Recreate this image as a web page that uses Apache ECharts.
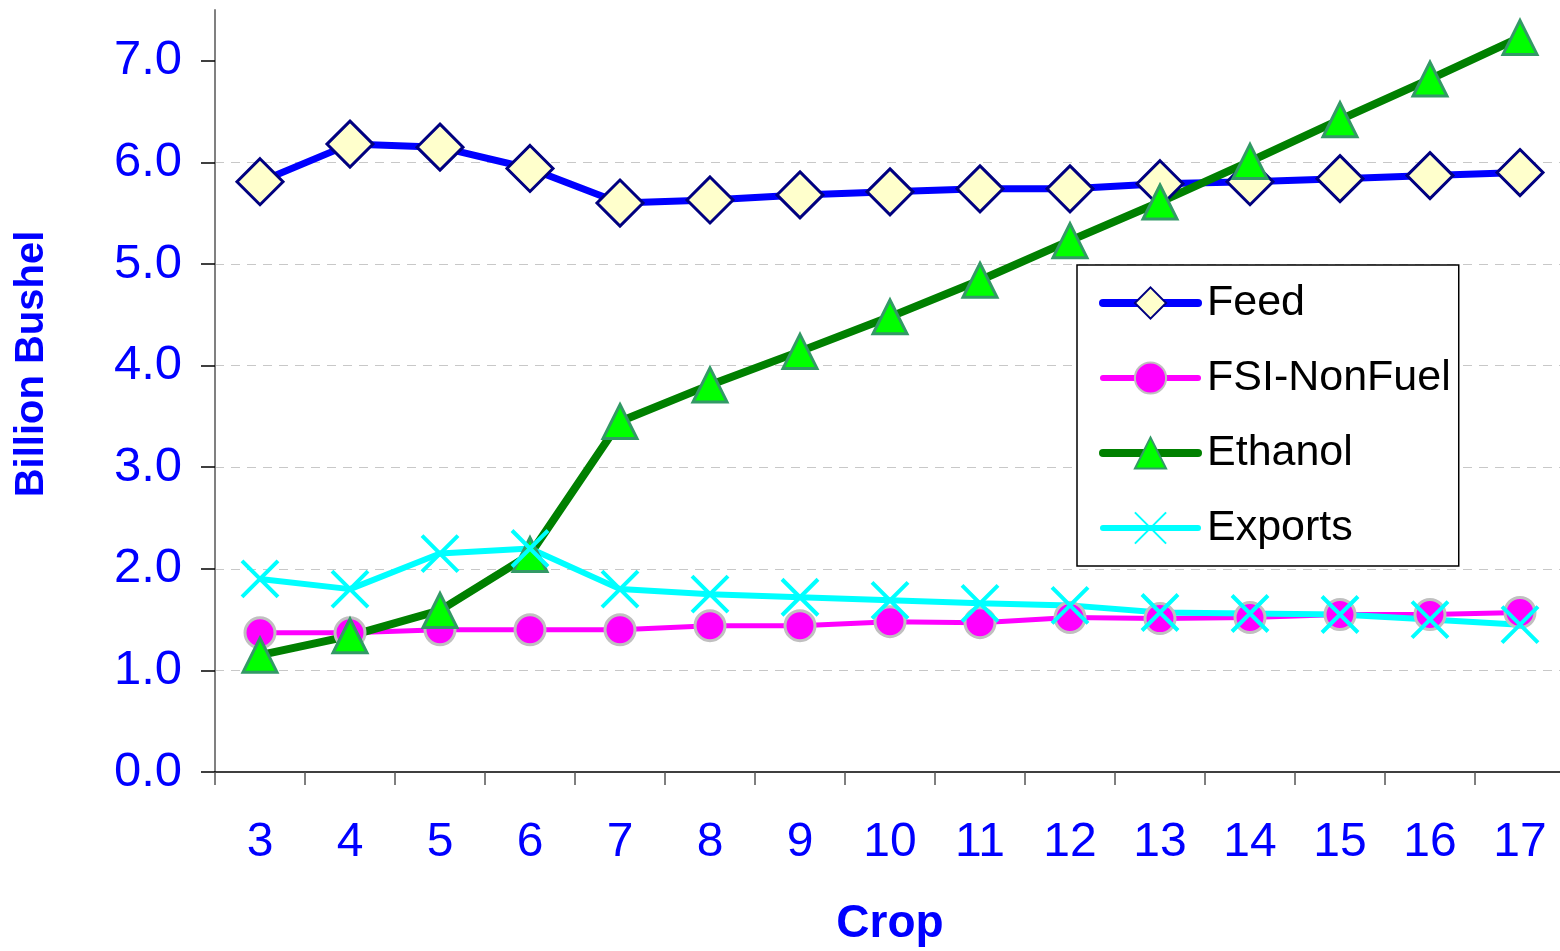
<!DOCTYPE html>
<html>
<head>
<meta charset="utf-8">
<script src="https://cdn.jsdelivr.net/npm/echarts@6/dist/echarts.min.js"></script>
<style>
html,body{margin:0;padding:0;background:#fff;}
#c{width:1560px;height:951px;}
</style>
</head>
<body>
<div id="c"></div>
<script>
var categories = ['3','4','5','6','7','8','9','10','11','12','13','14','15','16','17'];
var feed     = [5.81, 6.18, 6.15, 5.94, 5.60, 5.63, 5.68, 5.71, 5.74, 5.74, 5.79, 5.81, 5.84, 5.87, 5.90];
var fsiNonFuel = [1.37, 1.37, 1.40, 1.40, 1.40, 1.44, 1.44, 1.48, 1.47, 1.52, 1.51, 1.52, 1.55, 1.55, 1.57];
var ethanol  = [1.15, 1.34, 1.59, 2.14, 3.45, 3.81, 4.14, 4.48, 4.84, 5.23, 5.61, 6.01, 6.42, 6.82, 7.23];
var exportsV = [1.90, 1.80, 2.15, 2.20, 1.80, 1.75, 1.72, 1.69, 1.66, 1.64, 1.57, 1.56, 1.55, 1.50, 1.45];
var yTicks = [0, 1, 2, 3, 4, 5, 6, 7];
var seriesNames = ['Feed', 'FSI-NonFuel', 'Ethanol', 'Exports'];

var font = 'Liberation Sans, Arial, sans-serif';
var chart = echarts.init(document.getElementById('c'), null, {renderer: 'canvas'});
chart.setOption({
  animation: false,
  backgroundColor: '#ffffff',
  grid: {left: 215, right: -5, top: 10, bottom: 179, containLabel: false, outerBoundsMode: 'none'},
  legend: {
    orient: 'vertical',
    left: 1077, top: 265,
    padding: [13, 8, 13, 22],
    itemGap: 25,
    itemWidth: 95,
    itemHeight: 39,
    backgroundColor: '#ffffff',
    borderColor: '#000000',
    borderWidth: 1.5,
    textStyle: {fontFamily: font, fontSize: 43, color: '#000000', lineHeight: 50, padding: [0,0,0,4]},
    data: [
      {name: seriesNames[0], lineStyle: {width: 8, cap: 'round'}},
      {name: seriesNames[1], lineStyle: {width: 6, cap: 'round'}},
      {name: seriesNames[2], lineStyle: {width: 8, cap: 'round'}},
      {name: seriesNames[3], lineStyle: {width: 6, cap: 'round'}}
    ]
  },
  xAxis: {
    type: 'category',
    data: categories,
    boundaryGap: true,
    name: 'Crop',
    nameLocation: 'middle',
    nameGap: 129,
    nameTextStyle: {fontFamily: font, fontSize: 46, fontWeight: 'bold', color: '#0000FF'},
    axisLine: {lineStyle: {color: '#000000', width: 1.5}},
    axisTick: {show: true, length: 13, lineStyle: {color: '#555555', width: 1.5}},
    axisLabel: {fontFamily: font, fontSize: 48, color: '#0000FF', margin: 47, interval: 0},
    splitLine: {show: false}
  },
  yAxis: {
    type: 'value',
    min: 0, max: 7.5, interval: 1,
    name: 'Billion Bushel',
    nameLocation: 'middle',
    nameGap: 163,
    nameTextStyle: {fontFamily: font, fontSize: 40, fontWeight: 'bold', color: '#0000FF', padding: [0,0,0,54]},
    axisLine: {show: true, lineStyle: {color: '#808080', width: 2}},
    axisTick: {show: true, length: 14, customValues: yTicks, lineStyle: {color: '#000000', width: 1.5}},
    axisLabel: {fontFamily: font, fontSize: 49, color: '#0000FF', margin: 33, customValues: yTicks,
      formatter: function (v) { return v.toFixed(1); }},
    splitLine: {show: true, showMinLine: false, showMaxLine: false, lineStyle: {color: '#C8C8C8', width: 1, type: [9, 7]}}
  },
  series: [
    {
      name: seriesNames[0], type: 'line', data: feed,
      symbol: 'diamond', symbolSize: 46,
      lineStyle: {color: '#0000FF', width: 7},
      itemStyle: {color: '#FFFFCC', borderColor: '#000080', borderWidth: 3}
    },
    {
      name: seriesNames[1], type: 'line', data: fsiNonFuel,
      symbol: 'circle', symbolSize: 30,
      lineStyle: {color: '#FF00FF', width: 5},
      itemStyle: {color: '#FF00FF', borderColor: '#C0C0C0', borderWidth: 3}
    },
    {
      name: seriesNames[2], type: 'line', data: ethanol,
      symbol: 'triangle', symbolSize: [34, 34],
      lineStyle: {color: '#008000', width: 8},
      itemStyle: {color: '#00FF00', borderColor: '#339966', borderWidth: 3}
    },
    {
      name: seriesNames[3], type: 'line', data: exportsV,
      symbol: 'path://M0,0L10,10M10,0L0,10', symbolSize: 36,
      lineStyle: {color: '#00FFFF', width: 6},
      itemStyle: {color: 'none', borderColor: '#00FFFF', borderWidth: 4}
    }
  ]
});
</script>
</body>
</html>
